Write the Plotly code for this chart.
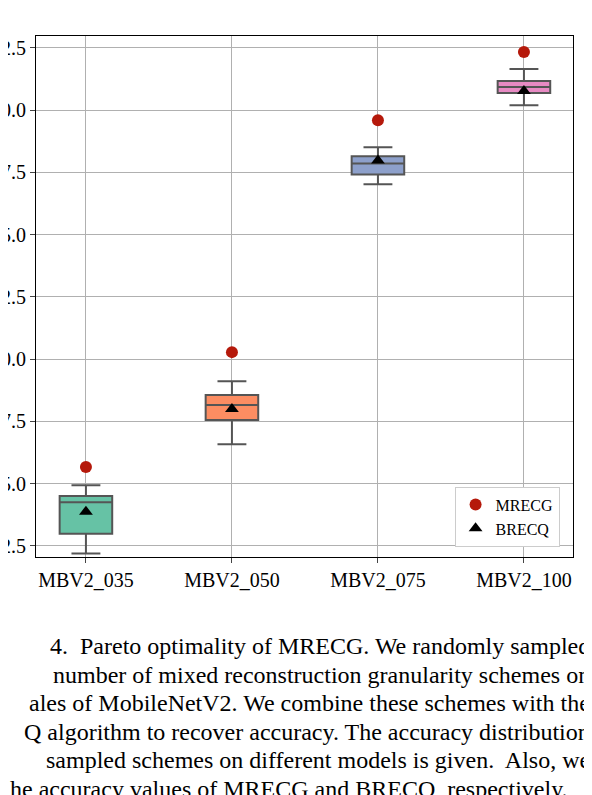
import plotly.graph_objects as go

models = ["MBV2_035", "MBV2_050", "MBV2_075", "MBV2_100"]
q1 = [52.98, 57.55, 67.42, 70.69]
median = [54.25, 58.16, 67.86, 70.93]
q3 = [54.50, 58.56, 68.15, 71.17]
lower = [52.19, 56.58, 67.02, 70.20]
upper = [54.93, 59.11, 68.51, 71.65]
brecq = [53.87, 58.00, 67.98, 70.77]
mrecg = [55.67, 60.28, 69.60, 72.34]
colors = ["#66c2a5", "#fc8d62", "#8da0cb", "#e78ac3"]
yticks = [52.5, 55.0, 57.5, 60.0, 62.5, 65.0, 67.5, 70.0, 72.5]
caption = [
    "4.  Pareto optimality of MRECG. We randomly sampled",
    "number of mixed reconstruction granularity schemes on",
    "ales of MobileNetV2. We combine these schemes with the",
    "Q algorithm to recover accuracy. The accuracy distribution",
    "sampled schemes on different models is given.  Also, we",
    "he accuracy values of MRECG and BRECQ, respectively.",
]

fig = go.Figure()
for i, m in enumerate(models):
    fig.add_trace(go.Box(x=[i], q1=[q1[i]], median=[median[i]], q3=[q3[i]],
                         lowerfence=[lower[i]], upperfence=[upper[i]],
                         fillcolor=colors[i], line=dict(color="#555555", width=2),
                         width=0.36, whiskerwidth=0.55, showlegend=False, hoverinfo="skip"))
fig.add_trace(go.Scatter(x=list(range(4)), y=mrecg, mode="markers", name="MRECG",
                         marker=dict(color="#b5190b", size=12)))
fig.add_trace(go.Scatter(x=list(range(4)), y=brecq, mode="markers", name="BRECQ",
                         marker=dict(color="black", size=12, symbol="triangle-up")))

ann = []
for k, t in enumerate(caption):
    ann.append(dict(text=t, xref="paper", yref="paper", x=(584 - 28) / 537 if k < 5 else (562 - 28) / 537,
                    y=1 - (638 + 28.5 * k - 28) / 521, xanchor="right", yanchor="middle",
                    showarrow=False, font=dict(family="Liberation Serif", size=24, color="black")))

fig.update_layout(
    width=592, height=795, margin=dict(l=28, r=27, t=28, b=246, autoexpand=False),
    paper_bgcolor="white", plot_bgcolor="white",
    font=dict(family="Liberation Serif", size=20, color="black"),
    xaxis=dict(range=[-0.342, 3.336], tickvals=list(range(4)), ticktext=models, automargin=False,
               showgrid=True, gridcolor="#b0b0b0", showline=True, mirror=True,
               linecolor="black", linewidth=1.2, ticks="outside", ticklen=5, zeroline=False),
    yaxis=dict(range=[52.05, 72.98], tickvals=yticks, tickformat=".1f", automargin=False,
               showgrid=True, gridcolor="#b0b0b0", showline=True, mirror=True,
               linecolor="black", linewidth=1.2, ticks="outside", ticklen=5, zeroline=False),
    legend=dict(x=0.975, y=0.02, xanchor="right", yanchor="bottom",
                bgcolor="white", bordercolor="#cccccc", borderwidth=1,
                font=dict(size=16)),
    annotations=ann,
)
fig.write_html("out.html")
